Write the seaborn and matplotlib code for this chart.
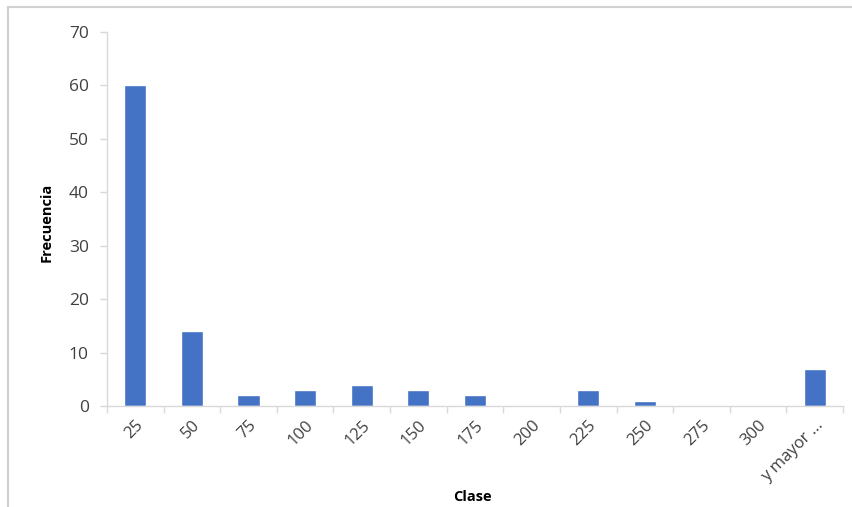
import pandas as pd
import matplotlib.pyplot as plt
import seaborn as sns
from matplotlib.patches import Rectangle

clases = ['25', '50', '75', '100', '125', '150', '175', '200', '225', '250', '275', '300', 'y mayor ...']
frecuencia = [60, 14, 2, 3, 4, 3, 2, 0, 3, 1, 0, 0, 7]

df = pd.DataFrame({'Clase': clases, 'Frecuencia': frecuencia})

sns.set_style("white")
plt.rcParams['font.family'] = ['Open Sans', 'DejaVu Sans']

fig = plt.figure(figsize=(8.53, 5.07), dpi=100)
ax = fig.add_axes([0.1254, 0.1992, 0.8629, 0.7377])

sns.barplot(data=df, x='Clase', y='Frecuencia', color='#4472C4', width=0.39,
            saturation=1, ax=ax)

ax.set_xlim(-0.5, len(clases) - 0.5)
ax.set_ylim(0, 70)
ax.set_yticks(range(0, 71, 10))

# ticks between categories like Excel
ax.set_xticks([i - 0.5 for i in range(len(clases) + 1)], minor=True)
ax.tick_params(axis='x', which='major', length=0, pad=8, labelsize=12, labelcolor='#404040')
ax.tick_params(axis='x', which='minor', length=5, color='#d9d9d9', width=1, bottom=True)
ax.tick_params(axis='y', length=5, color='#d9d9d9', width=1, left=True, labelsize=12.5,
               labelcolor='#404040', pad=8)
plt.setp(ax.get_xticklabels(), rotation=45, ha='right', va='top', rotation_mode='anchor')

for s in ['top', 'right']:
    ax.spines[s].set_visible(False)
for s in ['left', 'bottom']:
    ax.spines[s].set_color('#d9d9d9')
    ax.spines[s].set_linewidth(1)

ax.set_xlabel('Clase', fontsize=10.5, fontweight='bold', color='#000000')
ax.set_ylabel('Frecuencia', fontsize=10.5, fontweight='bold', color='#000000')
ax.xaxis.set_label_coords(0.497, -0.225)
ax.yaxis.set_label_coords(-0.073, 0.49)

# chart area border (cropped on right and bottom)
fig.patches.append(Rectangle((8 / 853, -0.1), 1.2, 1 - 7 / 507 + 0.1, transform=fig.transFigure,
                             fill=False, edgecolor='#d0d0d0', linewidth=1.5))

fig.savefig('out.png', dpi=100)
